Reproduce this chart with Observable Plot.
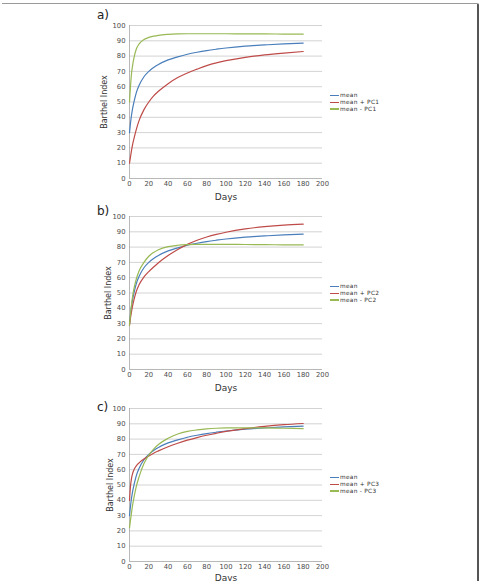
<!DOCTYPE html>
<html>
<head>
<meta charset="utf-8">
<script src="https://cdn.jsdelivr.net/npm/d3@7"></script>
<script src="https://cdn.jsdelivr.net/npm/@observablehq/plot@0.6"></script>
<style>
  html, body { margin: 0; padding: 0; background: #fff; }
  #root { position: relative; width: 480px; height: 581px; overflow: hidden; font-family: "DejaVu Sans", sans-serif; }
  .panel { position: absolute; left: 0; }
  .panel svg { overflow: visible; }
  .tag { position: absolute; font-size: 12px; line-height: 12px; color: #222; }
  .legend { position: absolute; left: 330px; font-size: 5.8px; letter-spacing: 0.3px; color: #333; }
  .legend div { height: 6.8px; line-height: 6.8px; display: flex; align-items: center; white-space: nowrap; }
  .legend span.sw { display: inline-block; width: 9px; height: 1.2px; margin-right: 1px; }
  .frame { position: absolute; left: 2px; top: 3px; width: 475px; height: 600px; border-top: 1.3px solid #9a9a9a; border-right: 2px solid #555; border-top-right-radius: 2px; }
</style>
</head>
<body>
<div id="root"><div class="frame"></div></div>
<script>
// ---- data ----
const days = [0, 1, 2, 3, 5, 7, 10, 15, 20, 25, 30, 40, 50, 60, 70, 80, 90, 100, 120, 140, 160, 180];
const meanVals   = [30, 36, 41, 45, 51, 56, 61, 66.5, 70, 72.5, 74.5, 77.5, 79.5, 81.2, 82.5, 83.6, 84.5, 85.3, 86.5, 87.3, 88, 88.5];
const pc1Plus    = [10, 14, 18, 21.5, 27, 32, 38, 45, 50, 54, 57, 62, 66, 69, 71.5, 73.8, 75.6, 77, 79.2, 80.8, 82, 83];
const pc1Minus   = [50, 60, 68, 73, 80, 84.5, 88, 90.8, 92.2, 93, 93.6, 94.2, 94.5, 94.6, 94.6, 94.6, 94.6, 94.6, 94.5, 94.5, 94.4, 94.3];
const pc2Plus    = [29, 33.5, 37.5, 41, 46.5, 51, 55.5, 60.5, 64, 67, 69.8, 74.5, 78.5, 81.8, 84.5, 86.6, 88.3, 89.7, 91.9, 93.4, 94.4, 95];
const pc2Minus   = [29, 36, 42, 47, 54, 59, 64.5, 70, 74, 76.5, 78.3, 80.3, 81.2, 81.6, 81.8, 81.8, 81.8, 81.8, 81.7, 81.6, 81.5, 81.4];
const pc3Plus    = [40, 49, 54, 57, 60.5, 62.5, 64.5, 67, 69, 70.8, 72.3, 75, 77.3, 79.3, 81, 82.5, 83.8, 85, 86.9, 88.3, 89.4, 90.2];
const pc3Minus   = [22, 27, 31.5, 36, 43, 49, 55.5, 64, 69.5, 73.5, 76.5, 80.5, 83.3, 85, 86, 86.7, 87.1, 87.3, 87.4, 87.3, 87.1, 86.9];
const panelTags  = ["a)", "b)", "c)"];
const seriesNames = [
  ["mean", "mean + PC1", "mean - PC1"],
  ["mean", "mean + PC2", "mean - PC2"],
  ["mean", "mean + PC3", "mean - PC3"]
];
const xTicks = [0, 20, 40, 60, 80, 100, 120, 140, 160, 180, 200];
const yTicks = [0, 10, 20, 30, 40, 50, 60, 70, 80, 90, 100];
const xLabel = "Days";
const yLabel = "Barthel Index";
const colors = ["#4a7ebb", "#be4b48", "#98b954"];

// ---- layout ----
const panels = [
  {top: 0,   plus: pc1Plus, minus: pc1Minus, yOff: 28, xOff: 21, tagTop: 9,   legTop: 92},
  {top: 191, plus: pc2Plus, minus: pc2Minus, yOff: 24, xOff: 21, tagTop: 205, legTop: 283},
  {top: 383, plus: pc3Plus, minus: pc3Minus, yOff: 22, xOff: 19, tagTop: 401, legTop: 474}
];
const root = document.getElementById("root");

panels.forEach((p, i) => {
  const names = seriesNames[i];
  const rows = [];
  [meanVals, p.plus, p.minus].forEach((vals, k) => {
    days.forEach((d, j) => rows.push({day: d, value: vals[j], series: names[k]}));
  });
  const chart = Plot.plot({
    width: 480,
    height: 200,
    marginLeft: 129,
    marginRight: 158,
    marginTop: 25,
    marginBottom: 22,
    style: {fontFamily: "'DejaVu Sans', sans-serif", background: "transparent"},
    x: {domain: [0, 200]},
    y: {domain: [0, 100]},
    color: {domain: names, range: colors},
    marks: [
      Plot.gridY(yTicks.filter(t => t > 0), {stroke: "#c8c8c8", strokeOpacity: 1, strokeWidth: 0.8}),
      Plot.ruleY([0], {stroke: "#a6a6a6", strokeWidth: 0.8}),
      Plot.ruleX([0], {stroke: "#a6a6a6", strokeWidth: 0.8}),
      Plot.axisX({ticks: xTicks, tickSize: 0, tickPadding: 3, fontSize: 6.8, fill: "#4d4d4d",
        label: xLabel, labelAnchor: "center", labelArrow: "none", labelOffset: p.xOff}),
      Plot.axisY({ticks: yTicks, tickSize: 0, tickPadding: 4, fontSize: 6.8, fill: "#4d4d4d",
        label: yLabel, labelAnchor: "center", labelArrow: "none", labelOffset: p.yOff}),
      Plot.line(rows, {x: "day", y: "value", stroke: "series", strokeWidth: 1.2, curve: "monotone-x"})
    ]
  });
  chart.querySelectorAll("g[aria-label='x-axis label'] text").forEach(t => { t.setAttribute("font-size", "9"); t.style.fill = "#333"; });
  chart.querySelectorAll("g[aria-label='y-axis label'] text").forEach(t => { t.setAttribute("font-size", "8"); t.style.fill = "#333"; });
  const wrap = document.createElement("div");
  wrap.className = "panel";
  wrap.style.top = p.top + "px";
  wrap.appendChild(chart);
  root.appendChild(wrap);

  const tag = document.createElement("div");
  tag.className = "tag";
  tag.style.left = "97px";
  tag.style.top = p.tagTop + "px";
  tag.textContent = panelTags[i];
  root.appendChild(tag);

  const leg = document.createElement("div");
  leg.className = "legend";
  leg.style.top = p.legTop + "px";
  names.forEach((n, k) => {
    const r = document.createElement("div");
    const sw = document.createElement("span");
    sw.className = "sw";
    sw.style.background = colors[k];
    r.appendChild(sw);
    r.appendChild(document.createTextNode(n));
    leg.appendChild(r);
  });
  root.appendChild(leg);
});
</script>
</body>
</html>
